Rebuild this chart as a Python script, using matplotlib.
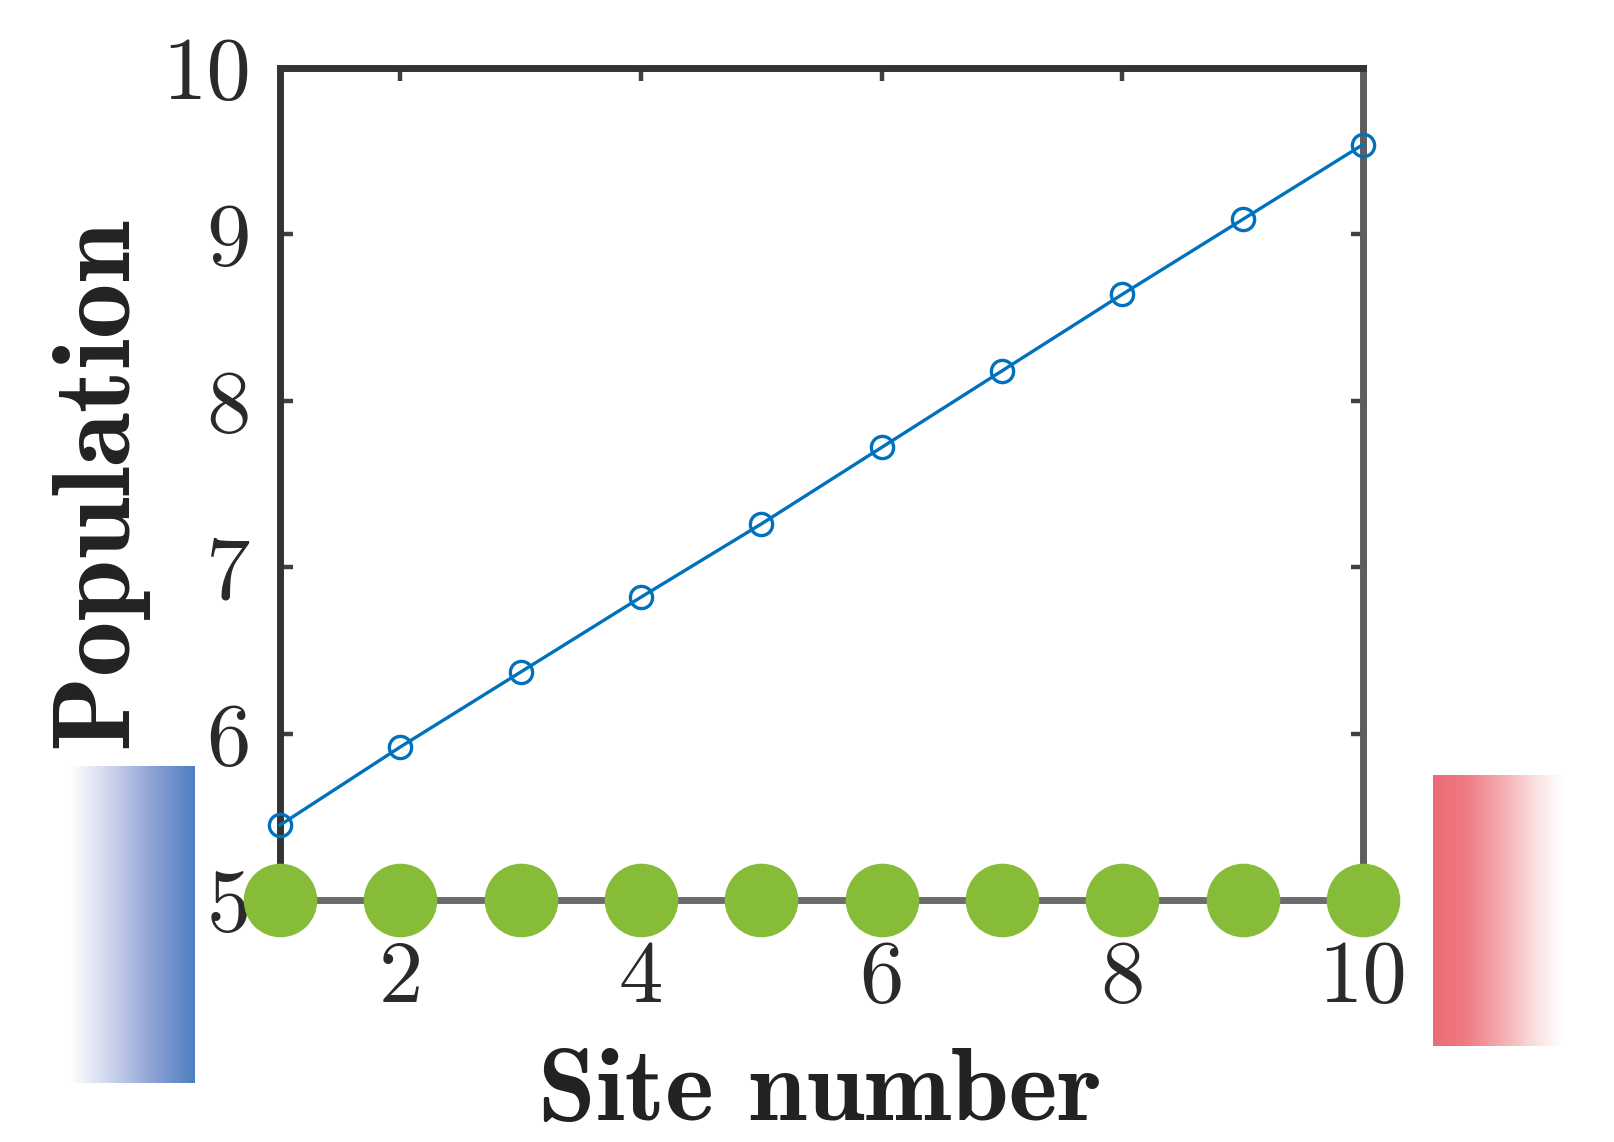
import numpy as np
import matplotlib
matplotlib.use("Agg")
import matplotlib.pyplot as plt
from matplotlib.colors import LinearSegmentedColormap

# ---- data ----
sites = [1, 2, 3, 4, 5, 6, 7, 8, 9, 10]
population = [5.45, 5.92, 6.37, 6.82, 7.26, 7.72, 8.18, 8.64, 9.09, 9.54]
chain_level = [5, 5, 5, 5, 5, 5, 5, 5, 5, 5]
x_ticks = [2, 4, 6, 8, 10]
x_ticklabels = ["2", "4", "6", "8", "10"]
y_ticks = [5, 6, 7, 8, 9, 10]
y_ticklabels = ["5", "6", "7", "8", "9", "10"]
x_label = "Site number"
y_label = "Population"

plt.rcParams['font.family'] = ['cmr10', 'DejaVu Serif']
plt.rcParams['axes.unicode_minus'] = False

W, H = 1615, 1142
fig = plt.figure(figsize=(W / 100, H / 100), dpi=100)
fig.patch.set_facecolor('white')

ax = fig.add_axes([280 / W, 1 - 900 / H, (1363 - 280) / W, (900 - 68) / H])
ax.set_xlim(1, 10)
ax.set_ylim(5, 10)

# blue curve
ax.plot(sites, population, color='#0072BD', lw=2.4, marker='o', ms=16,
        mfc='none', mec='#0072BD', mew=2.4, zorder=4, clip_on=False)

# chain of green sites
ax.plot(sites, chain_level, color='#6b6b6b', lw=5, zorder=5, clip_on=False,
        marker='o', ms=53, mfc='#86bc37', mec='#86bc37', mew=0)

ax.set_xticks(x_ticks)
ax.set_xticklabels(x_ticklabels)
ax.set_yticks(y_ticks)
ax.set_yticklabels(y_ticklabels)

ax.tick_params(axis='both', direction='in', length=9, width=3.2,
               color='#404040', labelsize=64, labelcolor='#2a2a2a')
ax.tick_params(axis='x', top=True, bottom=True, pad=29)
ax.tick_params(axis='y', left=True, right=True, pad=21)

for side in ['left', 'top']:
    ax.spines[side].set_linewidth(5)
    ax.spines[side].set_color('#333333')
ax.spines['right'].set_linewidth(5)
ax.spines['right'].set_color('#5e5e5e')
ax.spines['bottom'].set_visible(False)

fig.text(820 / W, 1 - 1120 / H, x_label, family='cmb10', fontsize=75,
         ha='center', va='baseline', color='#222222')
fig.text(98 / W, 1 - 482 / H, y_label, family='cmb10', fontsize=80,
         ha='center', va='center', rotation=90, color='#222222')

# gradient reservoirs
grad = np.linspace(0, 1, 256).reshape(1, -1)
blue_cmap = LinearSegmentedColormap.from_list(
    'bl', [(0, '#ffffff'), (0.35, '#c9d0ec'), (0.65, '#8ea3d5'), (1, '#4f7fc0')])
red_cmap = LinearSegmentedColormap.from_list(
    'rd', [(0, '#ec6a75'), (0.25, '#ee7a82'), (0.55, '#f5b0b3'), (0.8, '#fbe2e3'), (1, '#ffffff')])

axb = fig.add_axes([70 / W, 1 - 1083 / H, 125 / W, 317 / H])
axb.imshow(grad, aspect='auto', cmap=blue_cmap, interpolation='bilinear')
axb.axis('off')

axr = fig.add_axes([1433 / W, 1 - 1046 / H, 130 / W, 271 / H])
axr.imshow(grad, aspect='auto', cmap=red_cmap, interpolation='bilinear')
axr.axis('off')

fig.savefig('out.png', dpi=100, facecolor='white')
